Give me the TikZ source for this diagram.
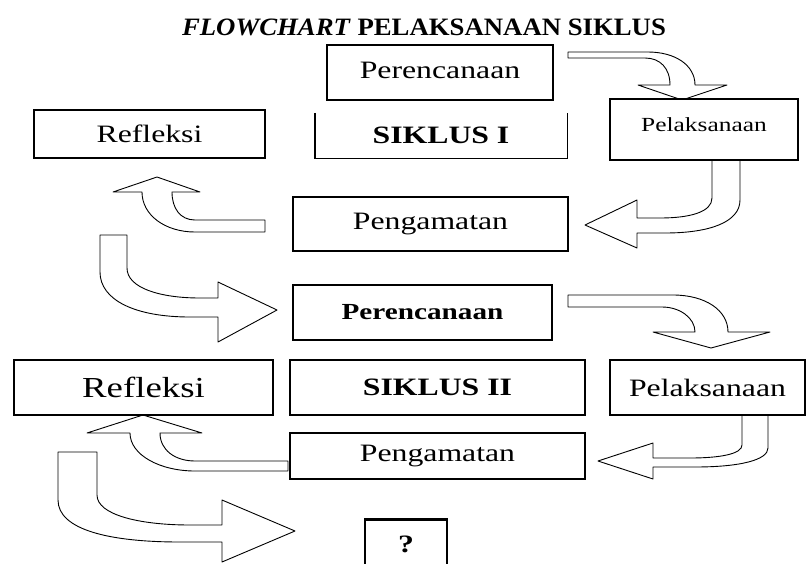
\documentclass[tikz,border=0pt]{standalone}
\usepackage{fontspec}
\setmainfont{Liberation Serif}
\newfontfamily\boxfont{Liberation Serif}[FakeStretch=1.27]
\newfontfamily\titlefont{Liberation Serif}[FakeStretch=1.07]
\begin{document}
\begin{tikzpicture}[x=1pt,y=-1pt,
  box/.style={draw, line width=1.4pt, inner sep=0pt, font=\boxfont\fontsize{25}{28}\selectfont},
  openbox/.style={inner sep=0pt, font=\boxfont\fontsize{25}{28}\selectfont},
  blockarrow/.style={draw, line width=0.9pt, fill=white, line join=round}]
\useasboundingbox (0,0) rectangle (806,563);
\clip (0,0) rectangle (806,563);

% title
\node (title) at (424,27) {\titlefont\fontsize{25}{28}\selectfont\textbf{\textit{FLOWCHART}} \textbf{PELAKSANAAN SIKLUS}};

% block arrows (drawn first, boxes on top)
% A1: Perencanaan -> Pelaksanaan (cycle I)
\path[blockarrow] (568,52) -- (648,52) .. controls (675,52) and (695,65) .. (695,85)
  -- (727,85) -- (682,100) -- (638,85) -- (670,85)
  .. controls (670,68) and (660,58) .. (645,58) -- (568,58) -- cycle;
% A2: Pelaksanaan -> Pengamatan (cycle I)
\path[blockarrow] (712,160) -- (712,198) .. controls (712,212) and (690,218) .. (660,218)
  -- (637,218) -- (637,200) -- (585,225) -- (637,248) -- (637,233) -- (665,233)
  .. controls (710,233) and (740,222) .. (740,200) -- (740,160) -- cycle;
% A3: Pengamatan -> Refleksi (cycle I)
\path[blockarrow] (265,220) -- (195,220) .. controls (180,220) and (172,208) .. (172,192)
  -- (200,192) -- (157,177) -- (113,192) -- (142,192)
  .. controls (142,215) and (165,232) .. (195,232) -- (265,232) -- cycle;
% A4: Refleksi -> Perencanaan (cycle II)
\path[blockarrow] (100,235) -- (127,235) -- (127,268) .. controls (127,288) and (160,298) .. (200,298)
  -- (218,298) -- (218,282) -- (277,310) -- (218,342) -- (218,317) -- (190,317)
  .. controls (135,317) and (100,300) .. (100,272) -- cycle;
% A5: Perencanaan -> Pelaksanaan (cycle II)
\path[blockarrow] (568,295) -- (673,295) .. controls (705,295) and (728,310) .. (728,332)
  -- (770,332) -- (711,348) -- (653,332) -- (695,332)
  .. controls (695,318) and (680,307) .. (662,307) -- (568,307) -- cycle;
% A6: Pelaksanaan -> Pengamatan (cycle II)
\path[blockarrow] (742,415) -- (742,445) .. controls (742,454) and (720,458) .. (690,458)
  -- (653,458) -- (653,443) -- (598,461) -- (653,479) -- (653,467) -- (695,467)
  .. controls (740,467) and (768,460) .. (768,448) -- (768,415) -- cycle;
% A7: Pengamatan -> Refleksi (cycle II)
\path[blockarrow] (288,461) -- (195,461) .. controls (175,461) and (160,450) .. (160,433)
  -- (202,433) -- (143,415) -- (87,433) -- (130,433)
  .. controls (130,455) and (160,471) .. (195,471) -- (288,471) -- cycle;
% A8: Refleksi -> ?
\path[blockarrow] (58,452) -- (97,452) -- (97,495) .. controls (97,515) and (140,525) .. (190,525)
  -- (222,525) -- (222,500) -- (295,531) -- (222,562) -- (222,542) -- (180,542)
  .. controls (110,542) and (58,530) .. (58,500) -- cycle;

% cycle I boxes
\node[box, minimum width=226pt, minimum height=55pt, fill=white] (per1) at (440,72.5) {\raisebox{4pt}{Perencanaan}};
\node[box, minimum width=231pt, minimum height=48pt] (ref1) at (149.5,134) {Refleksi};
\node[openbox, minimum width=252pt, minimum height=45pt] (sik1) at (441,135.5) {\textbf{SIKLUS I}};
\draw[line width=1.4pt] (sik1.north west) -- (sik1.south west) -- (sik1.south east) -- (sik1.north east);
\node[box, minimum width=188pt, minimum height=61pt, fill=white,
      font=\boxfont\fontsize{20}{24}\selectfont] (pel1) at (704,129.5) {\raisebox{10pt}{Pelaksanaan}};
\node[box, minimum width=275pt, minimum height=54pt] (pen1) at (430.5,224) {Pengamatan};

% cycle II boxes
\node[box, minimum width=259pt, minimum height=55pt,
      font=\boxfont\fontsize{23}{26}\selectfont] (per2) at (422.5,312.5) {\textbf{Perencanaan}};
\node[box, minimum width=259pt, minimum height=55pt,
      font=\boxfont\fontsize{29}{32}\selectfont] (ref2) at (143.5,387.5) {Refleksi};
\node[box, minimum width=295pt, minimum height=55pt] (sik2) at (437.5,387.5) {\textbf{SIKLUS II}};
\node[box, minimum width=195pt, minimum height=55pt] (pel2) at (707.5,387.5) {Pelaksanaan};
\node[box, minimum width=295pt, minimum height=46pt] (pen2) at (437.5,456) {Pengamatan};

% final box
\node[box, minimum width=82pt, minimum height=56pt] (q) at (406,548) {\raisebox{8pt}{\textbf{?}}};
\draw[line width=3pt] (q.north west) -- (q.north east);
\end{tikzpicture}
\end{document}
